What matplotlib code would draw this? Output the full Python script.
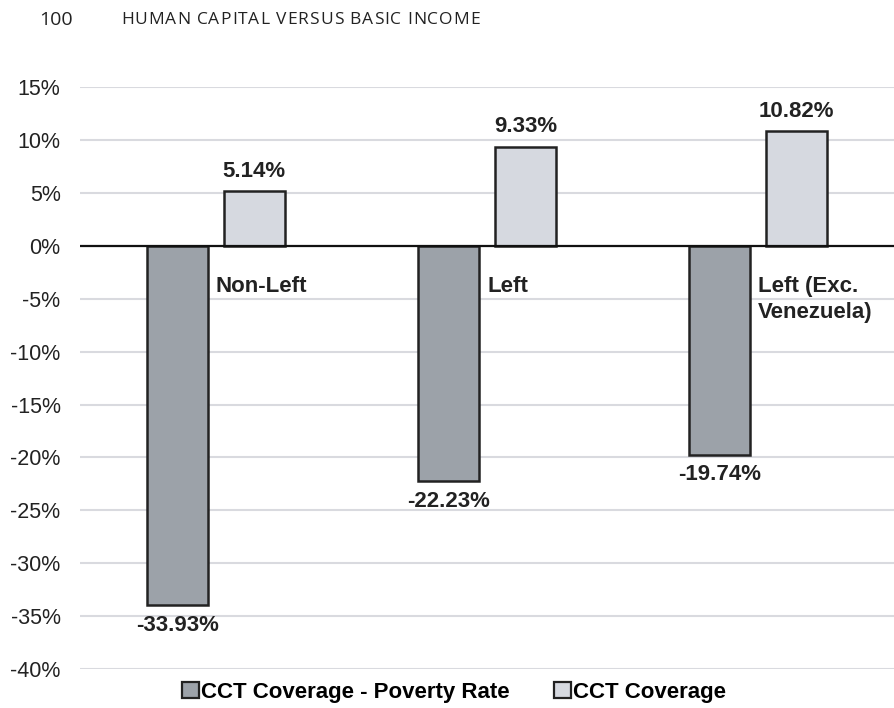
#!/usr/bin/python
"""
CCT coverage vs poverty rate, grouped bars by government type.
"""

import numpy as np
import matplotlib
matplotlib.use("Agg")
import matplotlib.pyplot as plt
from matplotlib.patches import Patch

# data
groups = ["Non-Left", "Left", "Left (Exc.\nVenezuela)"]
gap_values = [-33.93, -22.23, -19.74]      # CCT Coverage - Poverty Rate
coverage_values = [5.14, 9.33, 10.82]      # CCT Coverage
series_names = ["CCT Coverage - Poverty Rate", "CCT Coverage"]
y_ticks = list(range(-40, 16, 5))
page_number = "100"
running_head = "HUMAN CAPITAL VERSUS BASIC INCOME"

DARK = "#9ca2a9"
LIGHT = "#d6d9e0"
EDGE = "#222222"

plt.rcParams["font.family"] = ["Liberation Sans", "DejaVu Sans"]

fig = plt.figure(figsize=(8.94, 7.08), dpi=100)
ax = fig.add_axes([0.0895, 0.055, 0.9105, 0.822])

x = np.arange(len(groups))
width = 0.225
off = 0.142

ax.bar(x - off, gap_values, width, color=DARK, edgecolor=EDGE, linewidth=1.8, zorder=3)
ax.bar(x + off, coverage_values, width, color=LIGHT, edgecolor=EDGE, linewidth=1.8, zorder=3)

for i in range(len(groups)):
    ax.annotate("%.2f%%" % gap_values[i], (x[i] - off, gap_values[i]),
                xytext=(0, -7), textcoords="offset points",
                ha="center", va="top", fontsize=16, fontweight="bold", color="#222222")
    ax.annotate("%.2f%%" % coverage_values[i], (x[i] + off, coverage_values[i]),
                xytext=(0, 7), textcoords="offset points",
                ha="center", va="bottom", fontsize=16, fontweight="bold", color="#222222")
    ax.annotate(groups[i], (x[i], 0), xytext=(0, -22), textcoords="offset points",
                ha="left", va="top", fontsize=16, fontweight="bold", color="#222222",
                linespacing=1.3)

ax.set_xlim(-0.5, 2.5)
ax.set_ylim(-40, 15)
ax.set_yticks(y_ticks)
ax.set_yticklabels(["%d%%" % t for t in y_ticks], fontsize=15.5, color="#222222")
ax.set_xticks([])
ax.tick_params(axis="y", length=0, pad=14)
ax.grid(axis="y", color="#d9dadf", linewidth=1.5, zorder=0)
ax.axhline(0, color="#111111", linewidth=1.6, zorder=4)
for s in ax.spines.values():
    s.set_visible(False)

handles = [Patch(facecolor=DARK, edgecolor=EDGE, linewidth=1.6),
           Patch(facecolor=LIGHT, edgecolor=EDGE, linewidth=1.6)]
fig.legend(handles, series_names, loc="center", bbox_to_anchor=(0.508, 0.022),
           ncol=2, frameon=False, handlelength=0.75, handleheight=0.75,
           handletextpad=0.1, columnspacing=2.0,
           prop={"size": 16, "weight": "bold"})

# page header, with a little letter spacing on the running head
fig.text(39 / 894, 0.972, page_number, fontsize=14, color="#222222",
         family="Open Sans", va="center")
renderer = fig.canvas.get_renderer()
xpos = 121
for ch in running_head:
    t = fig.text(xpos / 894, 0.972, ch, fontsize=12.5, color="#222222",
                 family="Open Sans", va="center")
    w = t.get_window_extent(renderer).width
    if ch == " ":
        w = 4.0
    xpos += w + 1.0

fig.savefig("out.png", dpi=100)
